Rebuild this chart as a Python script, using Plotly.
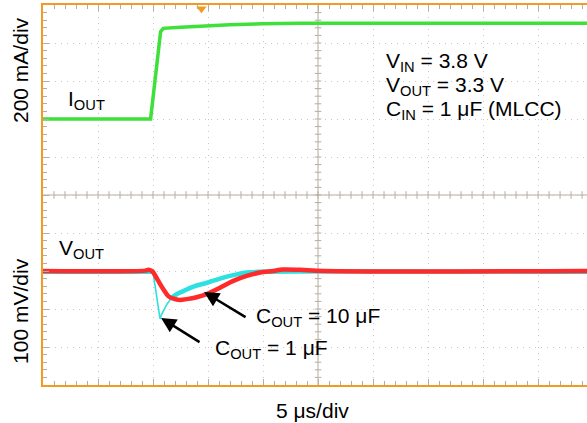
import plotly.graph_objects as go

# Time base: 5 µs/div, 9.89 divisions visible on screen
X_SPAN = 49.45
N_DIV_Y = 10

# Load current (mA), 200 mA/div, zero level at 7 divisions
iout_t = [0, 9.78, 10.69, 10.93, 12.5, 14.3, 17.0, 20.0, 23.4, 49.45]
iout_ma = [0, 0, 459, 477, 483, 489, 496, 501, 504, 504]

# Output voltage (V), 100 mV/div, 3.3 V level at 3 divisions
# COUT = 10 µF
vout10_t = [0, 9.3, 9.6, 9.88, 10.03, 10.48, 10.94, 11.39, 11.85, 12.45, 13.06,
            13.97, 14.88, 16.09, 17.3, 18.52, 19.73, 20.94, 21.8, 23.4, 25.5, 49.45]
vout10_v = [3.300, 3.301, 3.303, 3.300, 3.296, 3.274, 3.252, 3.234, 3.227, 3.224, 3.226,
            3.231, 3.239, 3.256, 3.274, 3.287, 3.296, 3.300, 3.304, 3.303, 3.300, 3.300]
# COUT = 1 µF
vout1_t = [0, 9.88, 10.03, 10.64, 10.79, 11.25, 11.7, 12.15, 12.75, 13.67,
           14.88, 16.09, 17.3, 18.52, 19.73, 49.45]
vout1_v = [3.297, 3.297, 3.291, 3.174, 3.186, 3.212, 3.230, 3.239, 3.247, 3.259,
           3.269, 3.280, 3.289, 3.296, 3.298, 3.298]

trigger_t = 14.4

ORANGE = "#F29B22"
GRID = "#c8c8c8"
TICK = "#b5ada0"
FONT = "Liberation Sans, Arial, Helvetica, sans-serif"

GREEN = "#3ee03a"
RED = "#ff2a2a"
CYAN = "#2fe0e0"

fig = go.Figure()

# Cyan trace: thin during the fast spike, thicker persistence band elsewhere
fig.add_trace(go.Scatter(x=vout1_t[:2], y=vout1_v[:2], yaxis="y3", mode="lines",
                         line=dict(color=CYAN, width=3.5), hoverinfo="skip"))
fig.add_trace(go.Scatter(x=vout1_t[1:7], y=vout1_v[1:7], yaxis="y3", mode="lines",
                         line=dict(color=CYAN, width=1.6), hoverinfo="skip"))
fig.add_trace(go.Scatter(x=vout1_t[6:], y=vout1_v[6:], yaxis="y3", mode="lines",
                         line=dict(color=CYAN, width=4.5, shape="spline"), hoverinfo="skip"))
fig.add_trace(go.Scatter(x=vout10_t, y=vout10_v, yaxis="y3", mode="lines",
                         line=dict(color=RED, width=4.5, shape="spline"), hoverinfo="skip"))
fig.add_trace(go.Scatter(x=iout_t, y=iout_ma, yaxis="y2", mode="lines",
                         line=dict(color=GREEN, width=3.5), hoverinfo="skip"))

# Trigger position marker on the top edge
fig.add_trace(go.Scatter(x=[trigger_t], y=[9.9], mode="markers", cliponaxis=False,
                         marker=dict(symbol="triangle-down", size=9, color=ORANGE),
                         hoverinfo="skip"))

# Centre crosshair with minor ticks
shapes = [
    dict(type="line", xref="x", yref="y", x0=0, x1=X_SPAN, y0=5, y1=5,
         line=dict(color=TICK, width=1), layer="below"),
    dict(type="line", xref="x", yref="y", x0=25, x1=25, y0=0, y1=N_DIV_Y,
         line=dict(color=TICK, width=1), layer="below"),
]
for k in range(1, 50):
    shapes.append(dict(type="line", xref="x", yref="y", x0=k, x1=k, y0=4.9, y1=5.1,
                       line=dict(color=TICK, width=1), layer="below"))
for k in range(1, 50):
    yv = k * 0.2
    shapes.append(dict(type="line", xref="x", yref="y", x0=24.7, x1=25.3, y0=yv, y1=yv,
                       line=dict(color=TICK, width=1), layer="below"))

ann_font = dict(family=FONT, size=21, color="black")


def label(text, x, y, **kw):
    d = dict(text=text, x=x, y=y, xanchor="left", yanchor="middle",
             showarrow=False, font=ann_font)
    d.update(kw)
    return d


annotations = [
    label("200 mA/div", -0.0404, 0.829, xref="paper", yref="paper",
          xanchor="center", textangle=-90),
    label("100 mV/div", -0.0404, 0.195, xref="paper", yref="paper",
          xanchor="center", textangle=-90),
    label("5 μs/div", 0.496, -0.0658, xref="paper", yref="paper", xanchor="center"),
    label("I<sub>OUT</sub>", 2.09, 7.5),
    label("V<sub>OUT</sub>", 1.27, 3.58),
    label("V<sub>IN</sub> = 3.8 V", 31.0, 8.5),
    label("V<sub>OUT</sub> = 3.3 V", 31.0, 7.87),
    label("C<sub>IN</sub> = 1 μF (MLCC)", 31.0, 7.24),
    label("C<sub>OUT</sub> = 10 μF", 19.18, 1.79),
    label("C<sub>OUT</sub> = 1 μF", 15.45, 0.95),
    # Arrows pointing at each curve
    dict(text="", x=14.64, y=2.447, ax=43, ay=26, showarrow=True, arrowhead=2,
         arrowsize=1.2, arrowwidth=2.5, arrowcolor="black"),
    dict(text="", x=10.73, y=1.763, ax=40, ay=25, showarrow=True, arrowhead=2,
         arrowsize=1.2, arrowwidth=2.5, arrowcolor="black"),
]

fig.update_layout(
    width=587, height=423,
    margin=dict(l=43, r=0, t=5, b=38),
    paper_bgcolor="white", plot_bgcolor="white",
    showlegend=False,
    shapes=shapes,
    annotations=annotations,
    xaxis=dict(range=[0, X_SPAN], tick0=0, dtick=5, showticklabels=False,
               showgrid=True, gridcolor=GRID, griddash="1px,5px", gridwidth=1,
               zeroline=False, ticks="inside", ticklen=6, tickcolor=TICK,
               minor=dict(dtick=1, ticks="inside", ticklen=4, tickcolor=TICK, showgrid=False),
               showline=True, linecolor=ORANGE, linewidth=2, mirror="ticks"),
    yaxis=dict(range=[0, N_DIV_Y], tick0=0, dtick=1, showticklabels=False,
               showgrid=True, gridcolor=GRID, griddash="1px,5px", gridwidth=1,
               zeroline=False, ticks="inside", ticklen=6, tickcolor=TICK,
               minor=dict(dtick=0.2, ticks="inside", ticklen=4, tickcolor=TICK, showgrid=False),
               showline=True, linecolor=ORANGE, linewidth=2, mirror=False),
    yaxis2=dict(overlaying="y", range=[-1400, 600], visible=False),
    yaxis3=dict(overlaying="y", range=[3.0, 4.0], visible=False),
)

fig.write_html("out.html")
